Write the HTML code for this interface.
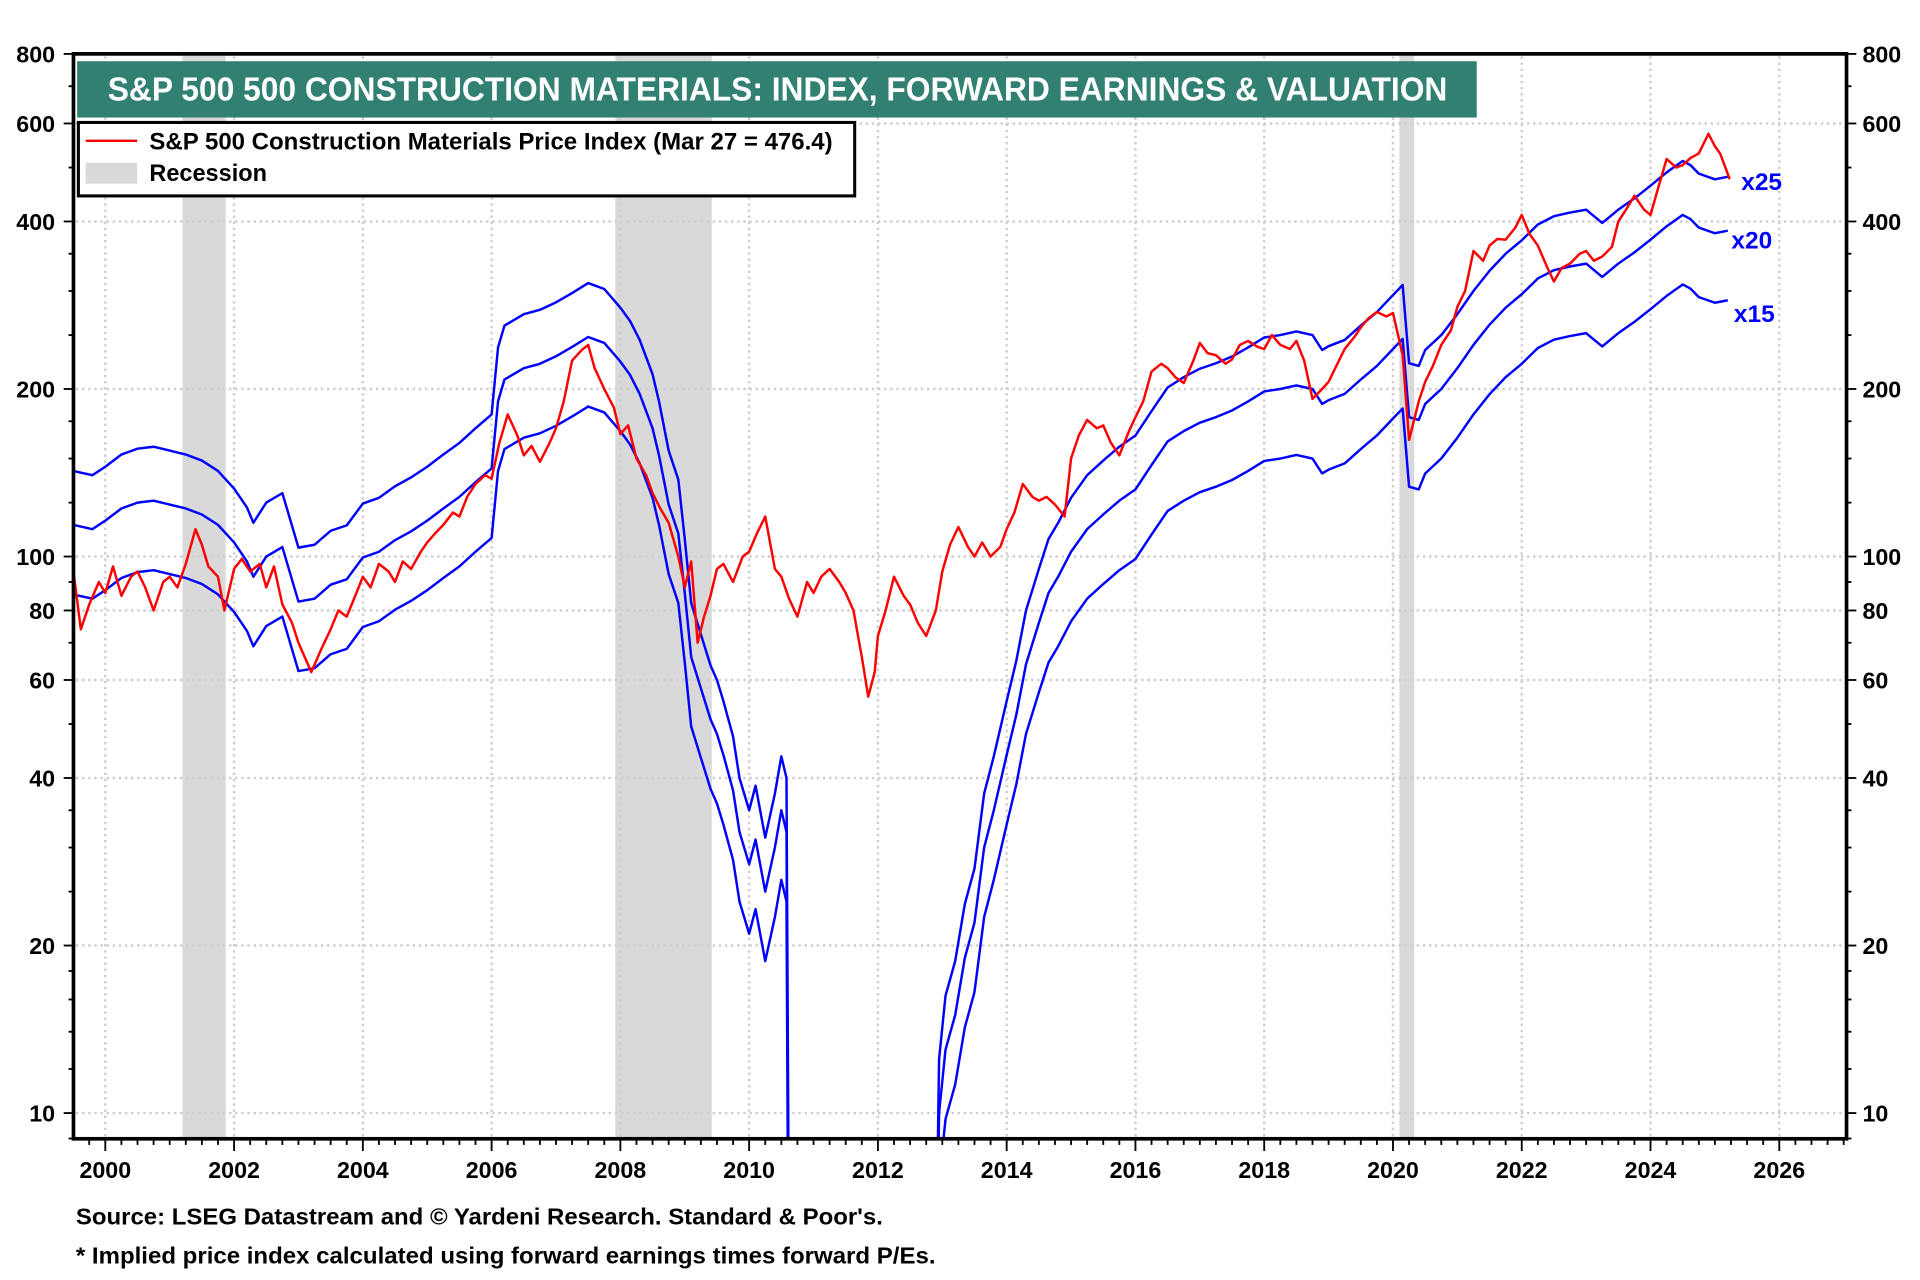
<!DOCTYPE html>
<html><head><meta charset="utf-8"><style>
html,body{margin:0;padding:0;background:#fff;width:1920px;height:1280px;overflow:hidden}
svg{display:block}
text{font-family:"Liberation Sans Narrow","Liberation Sans",sans-serif;font-weight:bold}
</style></head><body>
<svg id="chart" width="1920" height="1280" viewBox="0 0 1568 1045.33" xmlns="http://www.w3.org/2000/svg">
<defs><clipPath id="plotclip"><rect x="61" y="45" width="1446" height="884"/></clipPath></defs>
<rect x="0" y="0" width="1568" height="1045" fill="#fff"/>
<g id="recess"></g>
<g id="grid"></g>
<g id="series" clip-path="url(#plotclip)"></g>
<rect x="60" y="44" width="1448" height="886" fill="none" stroke="#000" stroke-width="3"/>
<g id="axes"></g>
<rect x="63" y="50" width="1143" height="46" fill="#318072"/>
<text x="88" y="82" font-size="27" fill="#fff" textLength="1094" lengthAdjust="spacingAndGlyphs">S&amp;P 500 500 CONSTRUCTION MATERIALS: INDEX, FORWARD EARNINGS &amp; VALUATION</text>
<g>
<rect x="64" y="100" width="634" height="60" fill="#fff" stroke="#000" stroke-width="2.5"/>
<line x1="70" y1="115" x2="112" y2="115" stroke="#f00" stroke-width="2"/>
<text x="122" y="122" font-size="20" textLength="558" lengthAdjust="spacingAndGlyphs">S&amp;P 500 Construction Materials Price Index (Mar 27 = 476.4)</text>
<rect x="70" y="133" width="42" height="17" fill="#d9d9d9"/>
<text x="122" y="148" font-size="20" textLength="96" lengthAdjust="spacingAndGlyphs">Recession</text>
</g>
<text x="1422" y="155" font-size="20" fill="#0000ff">x25</text>
<text x="1414" y="203" font-size="20" fill="#0000ff">x20</text>
<text x="1416" y="263" font-size="20" fill="#0000ff">x15</text>
<text x="62" y="1000" font-size="19" textLength="659" lengthAdjust="spacingAndGlyphs">Source: LSEG Datastream and © Yardeni Research. Standard &amp; Poor's.</text>
<text x="62" y="1032" font-size="19" textLength="702" lengthAdjust="spacingAndGlyphs">* Implied price index calculated using forward earnings times forward P/Es.</text>
</svg>
<script>
const yTicks = [10, 20, 40, 60, 80, 100, 200, 400, 600, 800];
const xTickYears = [2000, 2002, 2004, 2006, 2008, 2010, 2012, 2014, 2016, 2018, 2020, 2022, 2024, 2026];
const recessionStart = [2001.2, 2007.92, 2020.1];
const recessionEnd = [2001.87, 2009.42, 2020.33];
const multiples = [25, 20, 15];
const priceT = [1999.5,1999.62,1999.75,1999.9,2000,2000.12,2000.25,2000.4,2000.5,2000.62,2000.75,2000.9,2001,2001.12,2001.25,2001.4,2001.5,2001.6,2001.75,2001.85,2002,2002.12,2002.25,2002.4,2002.5,2002.62,2002.75,2002.9,2003,2003.2,2003.35,2003.5,2003.62,2003.75,2003.9,2004,2004.12,2004.25,2004.4,2004.5,2004.62,2004.75,2004.9,2005,2005.12,2005.25,2005.4,2005.5,2005.62,2005.75,2005.9,2006,2006.12,2006.25,2006.4,2006.5,2006.62,2006.75,2006.9,2007,2007.12,2007.25,2007.4,2007.5,2007.6,2007.75,2007.9,2008,2008.12,2008.25,2008.4,2008.5,2008.62,2008.75,2008.9,2009,2009.1,2009.2,2009.3,2009.4,2009.5,2009.6,2009.75,2009.9,2010,2010.12,2010.25,2010.4,2010.5,2010.62,2010.75,2010.9,2011,2011.12,2011.25,2011.4,2011.5,2011.62,2011.75,2011.85,2011.95,2012,2012.12,2012.25,2012.4,2012.5,2012.62,2012.75,2012.9,2013,2013.12,2013.25,2013.4,2013.5,2013.62,2013.75,2013.9,2014,2014.12,2014.25,2014.4,2014.5,2014.62,2014.75,2014.9,2015,2015.12,2015.25,2015.4,2015.5,2015.62,2015.75,2015.9,2016,2016.12,2016.25,2016.4,2016.5,2016.62,2016.75,2016.9,2017,2017.12,2017.25,2017.4,2017.5,2017.62,2017.75,2017.9,2018,2018.12,2018.25,2018.4,2018.5,2018.62,2018.75,2018.9,2019,2019.12,2019.25,2019.4,2019.5,2019.62,2019.75,2019.9,2020,2020.15,2020.25,2020.4,2020.5,2020.62,2020.75,2020.9,2021,2021.12,2021.25,2021.4,2021.5,2021.62,2021.75,2021.9,2022,2022.12,2022.25,2022.4,2022.5,2022.62,2022.75,2022.9,2023,2023.12,2023.25,2023.4,2023.5,2023.62,2023.75,2023.9,2024,2024.12,2024.25,2024.4,2024.5,2024.62,2024.75,2024.9,2025,2025.08,2025.15,2025.23];
const priceV = [95,74,82,90,86,96,85,92,94,88,80,90,92,88,97,112,105,96,92,80,95,99,94,97,88,96,82,76,70,62,68,74,80,78,86,92,88,97,94,90,98,95,102,106,110,114,120,118,128,135,140,138,160,180,165,152,158,148,160,170,190,225,235,240,218,200,185,166,172,150,140,130,122,115,100,88,98,70,78,85,95,97,90,100,102,110,118,95,92,84,78,90,86,92,95,90,86,80,66,56,62,72,80,92,85,82,76,72,80,94,105,113,104,100,106,100,104,112,120,135,128,126,128,124,118,150,165,176,170,172,160,152,168,178,190,215,222,218,210,205,225,242,232,230,222,226,240,244,238,236,250,240,236,244,225,192,200,206,220,236,248,258,268,275,270,274,230,162,190,206,220,240,255,281,300,354,340,362,372,371,390,411,380,362,330,312,330,336,350,354,340,346,360,400,420,445,420,411,460,518,500,505,520,530,575,546,530,505,476.4];
const epsT = [1999.5,1999.8,2000,2000.25,2000.5,2000.75,2001,2001.25,2001.5,2001.75,2002,2002.2,2002.3,2002.5,2002.75,2003,2003.25,2003.5,2003.75,2004,2004.25,2004.5,2004.75,2005,2005.25,2005.5,2005.75,2006,2006.1,2006.2,2006.5,2006.75,2007,2007.25,2007.5,2007.75,2008,2008.15,2008.3,2008.5,2008.6,2008.75,2008.9,2009,2009.1,2009.25,2009.4,2009.5,2009.6,2009.75,2009.85,2010,2010.1,2010.25,2010.4,2010.5,2010.58,2010.62,2011,2012,2012.9,2012.95,2013.05,2013.2,2013.35,2013.5,2013.65,2013.8,2014,2014.15,2014.3,2014.5,2014.65,2014.8,2015,2015.25,2015.5,2015.75,2016,2016.25,2016.5,2016.75,2017,2017.25,2017.5,2017.75,2018,2018.25,2018.5,2018.75,2018.9,2019,2019.25,2019.5,2019.75,2020,2020.15,2020.25,2020.4,2020.5,2020.75,2021,2021.25,2021.5,2021.75,2022,2022.25,2022.5,2022.75,2023,2023.25,2023.5,2023.75,2024,2024.25,2024.5,2024.62,2024.75,2025,2025.2];
const epsV = [5.7,5.6,5.8,6.1,6.25,6.3,6.2,6.1,5.95,5.7,5.3,4.9,4.6,5.0,5.2,4.15,4.2,4.45,4.55,4.98,5.1,5.35,5.55,5.8,6.1,6.4,6.8,7.2,9.5,10.4,10.9,11.1,11.45,11.9,12.4,12.1,11.2,10.6,9.8,8.5,7.6,6.2,5.5,4.3,3.3,2.9,2.55,2.4,2.2,1.9,1.6,1.4,1.55,1.25,1.5,1.75,1.6,0.2,0.2,0.2,0.2,0.5,0.65,0.75,0.95,1.1,1.5,1.75,2.2,2.6,3.2,3.8,4.3,4.6,5.1,5.6,5.95,6.3,6.6,7.3,8.05,8.4,8.7,8.9,9.15,9.5,9.9,10.0,10.15,10.0,9.4,9.55,9.8,10.4,11.0,11.8,12.3,8.9,8.8,9.4,10.0,10.9,12.0,13.05,14.0,14.8,15.8,16.35,16.6,16.8,15.9,16.8,17.6,18.55,19.6,20.55,20.2,19.5,19.05,19.25];

const NS = 'http://www.w3.org/2000/svg';
function xs(t){ return 86 + (t - 2000) * 52.58; }
function ys(v){ return 909 - 454.5 * (Math.log10(v) - 1); }
function mk(tag, attrs, parent){
  const el = document.createElementNS(NS, tag);
  for (const k in attrs) el.setAttribute(k, attrs[k]);
  parent.appendChild(el);
  return el;
}
const recessG = document.getElementById('recess');
recessionStart.forEach((s, i) => {
  const r = mk('rect', {x: xs(s), y: 44, width: xs(recessionEnd[i]) - xs(s), height: 886, fill: '#d9d9d9'}, recessG);
  
  
});
const gridG = document.getElementById('grid');
xTickYears.forEach(yr => {
  const l = mk('line', {x1: xs(yr), x2: xs(yr), y1: 46, y2: 928, stroke: '#cfcfcf', 'stroke-width': 2, 'stroke-dasharray': '2,3'}, gridG);
  
  
});
yTicks.forEach(v => {
  if (v === 800) return;
  const l = mk('line', {x1: 62, x2: 1506, y1: ys(v), y2: ys(v), stroke: '#cfcfcf', 'stroke-width': 2, 'stroke-dasharray': '2,3'}, gridG);
  
  
});
const axesG = document.getElementById('axes');
yTicks.forEach(v => {
  const t1 = mk('text', {x: 45, y: ys(v) + 7, 'font-size': 19, 'text-anchor': 'end'}, axesG);
  t1.textContent = v;
  
  
  const t2 = mk('text', {x: 1521, y: ys(v) + 7, 'font-size': 19}, axesG);
  t2.textContent = v;
  
  
});
const minorY = [9,10,12,14,16,18,20,25,30,35,40,50,60,70,80,90,100,125,150,175,200,250,300,350,400,500,600,700,800];
minorY.forEach(v => {
  const big = yTicks.indexOf(v) >= 0;
  const a = mk('line', {x1: big ? 52 : 56, x2: 60, y1: ys(v), y2: ys(v), stroke: '#000', 'stroke-width': 1.5}, axesG);
  
  
  const b = mk('line', {x1: 1508, x2: big ? 1516 : 1512, y1: ys(v), y2: ys(v), stroke: '#000', 'stroke-width': 1.5}, axesG);
  
  
});
for (let q = 1999.75; q < 2027.1; q += 0.25) {
  const major = Math.abs(q - Math.round(q)) < 0.01 && Math.round(q) % 2 === 0;
  const tk = mk('line', {x1: xs(q), x2: xs(q), y1: 930, y2: major ? 940 : 935, stroke: '#000', 'stroke-width': 1.5}, axesG);
  
  
}
xTickYears.forEach(yr => {
  const t = mk('text', {x: xs(yr), y: 962, 'font-size': 19, 'text-anchor': 'middle'}, axesG);
  t.textContent = yr;
  
  
});
const seriesG = document.getElementById('series');
multiples.forEach(m => {
  let d = '';
  epsT.forEach((t, i) => { d += (i ? ' L' : 'M') + xs(t) + ',' + ys(epsV[i] * m); });
  const p = mk('path', {d: d, fill: 'none', stroke: '#0000ff', 'stroke-width': 2, 'stroke-linejoin': 'round'}, seriesG);
  
  
});
let pd = '';
priceT.forEach((t, i) => { pd += (i ? ' L' : 'M') + xs(t) + ',' + ys(priceV[i]); });
const price = mk('path', {d: pd, fill: 'none', stroke: '#ff0000', 'stroke-width': 2, 'stroke-linejoin': 'round'}, seriesG);


</script>
</body></html>
